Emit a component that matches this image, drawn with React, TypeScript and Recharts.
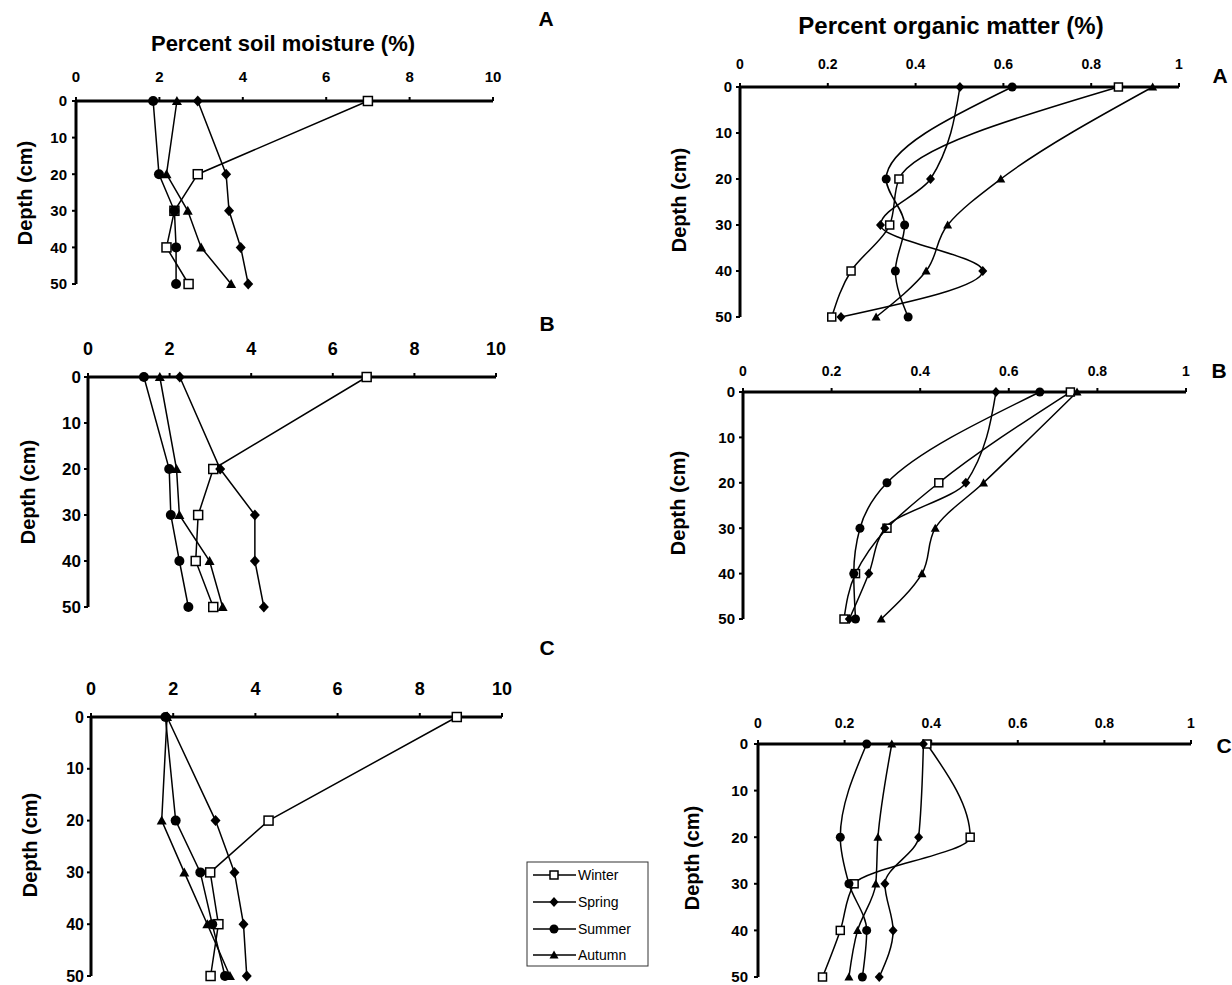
import React from 'react';
import { LineChart, Line, XAxis, YAxis } from 'recharts';

const FONT = '"Liberation Sans", Arial, Helvetica, sans-serif';

const depths = [0, 20, 30, 40, 50];
const seasons = ['Winter', 'Spring', 'Summer', 'Autumn'];
const moistureTicks = [0, 2, 4, 6, 8, 10];
const organicTicks = [0, 0.2, 0.4, 0.6, 0.8, 1];
const depthTicks = [0, 10, 20, 30, 40, 50];

// Percent soil moisture (%) — site A
const moistureAWinter = [7.0, 2.92, 2.36, 2.17, 2.7];
const moistureASpring = [2.92, 3.6, 3.67, 3.95, 4.13];
const moistureASummer = [1.85, 1.99, 2.36, 2.4, 2.4];
const moistureAAutumn = [2.42, 2.17, 2.68, 3.0, 3.72];
// site B
const moistureBWinter = [6.83, 3.07, 2.7, 2.64, 3.07];
const moistureBSpring = [2.25, 3.24, 4.09, 4.09, 4.31];
const moistureBSummer = [1.37, 1.99, 2.03, 2.24, 2.46];
const moistureBAutumn = [1.76, 2.17, 2.24, 2.98, 3.3];
// site C
const moistureCWinter = [8.9, 4.32, 2.9, 3.1, 2.91];
const moistureCSpring = [1.85, 3.03, 3.49, 3.71, 3.79];
const moistureCSummer = [1.81, 2.06, 2.66, 2.95, 3.26];
const moistureCAutumn = [1.85, 1.72, 2.27, 2.83, 3.38];

// Percent organic matter (%) — site A
const organicAWinter = [0.862, 0.362, 0.341, 0.253, 0.209];
const organicASpring = [0.501, 0.434, 0.32, 0.553, 0.23];
const organicASummer = [0.62, 0.333, 0.375, 0.354, 0.383];
const organicAAutumn = [0.94, 0.594, 0.473, 0.424, 0.31];
// site B
const organicBWinter = [0.739, 0.442, 0.325, 0.254, 0.228];
const organicBSpring = [0.571, 0.503, 0.32, 0.284, 0.24];
const organicBSummer = [0.67, 0.325, 0.264, 0.25, 0.254];
const organicBAutumn = [0.754, 0.543, 0.434, 0.404, 0.312];
// site C
const organicCWinter = [0.39, 0.49, 0.222, 0.19, 0.149];
const organicCSpring = [0.382, 0.371, 0.293, 0.312, 0.28];
const organicCSummer = [0.251, 0.19, 0.21, 0.251, 0.241];
const organicCAutumn = [0.309, 0.277, 0.272, 0.23, 0.21];

function buildRows(w: number[], s: number[], su: number[], a: number[]) {
  return depths.map((d, i) => ({ depth: d, Winter: w[i], Spring: s[i], Summer: su[i], Autumn: a[i] }));
}

type PanelDef = {
  key: string;
  x: number; y: number; w: number; h: number;
  rows: any[];
  domain: [number, number];
  xTicks: number[];
  xFont: number; yFont: number;
  xTickMargin: number; yTickMargin: number;
  curve: 'linear' | 'monotone';
  marker: number;
};

const panels: PanelDef[] = [
  { key: 'mA', x: 76, y: 101, w: 417, h: 183, rows: buildRows(moistureAWinter, moistureASpring, moistureASummer, moistureAAutumn), domain: [0, 10], xTicks: moistureTicks, xFont: 15, yFont: 15, xTickMargin: 15, yTickMargin: 5, curve: 'linear', marker: 10 },
  { key: 'mB', x: 88, y: 377, w: 408, h: 230, rows: buildRows(moistureBWinter, moistureBSpring, moistureBSummer, moistureBAutumn), domain: [0, 10], xTicks: moistureTicks, xFont: 18, yFont: 17, xTickMargin: 18, yTickMargin: 3, curve: 'linear', marker: 10 },
  { key: 'mC', x: 91, y: 717, w: 411, h: 259, rows: buildRows(moistureCWinter, moistureCSpring, moistureCSummer, moistureCAutumn), domain: [0, 10], xTicks: moistureTicks, xFont: 18, yFont: 16, xTickMargin: 18, yTickMargin: 3, curve: 'linear', marker: 10 },
  { key: 'oA', x: 740, y: 87, w: 439, h: 230, rows: buildRows(organicAWinter, organicASpring, organicASummer, organicAAutumn), domain: [0, 1], xTicks: organicTicks, xFont: 14, yFont: 15, xTickMargin: 14, yTickMargin: 4, curve: 'monotone', marker: 9 },
  { key: 'oB', x: 743, y: 392, w: 443, h: 227, rows: buildRows(organicBWinter, organicBSpring, organicBSummer, organicBAutumn), domain: [0, 1], xTicks: organicTicks, xFont: 14, yFont: 15, xTickMargin: 12, yTickMargin: 4, curve: 'monotone', marker: 9 },
  { key: 'oC', x: 758, y: 744, w: 433, h: 233, rows: buildRows(organicCWinter, organicCSpring, organicCSummer, organicCAutumn), domain: [0, 1], xTicks: organicTicks, xFont: 14, yFont: 15, xTickMargin: 12, yTickMargin: 6, curve: 'monotone', marker: 9 },
];

function Marker({ cx, cy, season, size }: { cx?: number; cy?: number; season: string; size: number }) {
  if (cx == null || cy == null || isNaN(cx) || isNaN(cy)) return null;
  const h = size / 2;
  if (season === 'Winter') {
    return <rect x={cx - h + 0.5} y={cy - h + 0.5} width={size - 1} height={size - 1} fill="#fff" stroke="#000" strokeWidth={1.5} />;
  }
  if (season === 'Spring') {
    return <polygon points={`${cx},${cy - h - 0.5} ${cx + h},${cy} ${cx},${cy + h + 0.5} ${cx - h},${cy}`} fill="#000" />;
  }
  if (season === 'Summer') {
    return <circle cx={cx} cy={cy} r={h} fill="#000" />;
  }
  return <polygon points={`${cx},${cy - h} ${cx + h},${cy + h * 0.8} ${cx - h},${cy + h * 0.8}`} fill="#000" />;
}

function Panel({ p }: { p: PanelDef }) {
  const ML = 70, MT = 50, MR = 24, MB = 20;
  const fmt = (v: number) => String(v);
  return (
    <div style={{ position: 'absolute', left: p.x - ML, top: p.y - MT }}>
      <LineChart
        width={p.w + ML + MR}
        height={p.h + MT + MB}
        data={p.rows}
        layout="vertical"
        margin={{ top: 0, left: 0, right: MR, bottom: MB }}
      >
        <XAxis
          type="number"
          orientation="top"
          domain={p.domain}
          ticks={p.xTicks}
          interval={0}
          height={MT}
          axisLine={{ stroke: '#000', strokeWidth: 3 }}
          tickLine={{ stroke: '#000', strokeWidth: 2 }}
          tickSize={4}
          tickMargin={p.xTickMargin}
          tickFormatter={fmt}
          tick={{ fill: '#000', fontSize: p.xFont, fontWeight: 700, fontFamily: FONT }}
        />
        <YAxis
          type="number"
          dataKey="depth"
          domain={[0, 50]}
          ticks={depthTicks}
          interval={0}
          width={ML}
          axisLine={{ stroke: '#000', strokeWidth: 3 }}
          tickLine={{ stroke: '#000', strokeWidth: 2 }}
          tickSize={4}
          tickMargin={p.yTickMargin}
          tick={{ fill: '#000', fontSize: p.yFont, fontWeight: 700, fontFamily: FONT }}
        />
        {seasons.map((s) => (
          <Line
            key={s}
            dataKey={s}
            type={p.curve}
            stroke="#000"
            strokeWidth={1.5}
            isAnimationActive={false}
            activeDot={false}
            dot={(props: any) => (
              <Marker key={`${p.key}-${s}-${props.index}`} cx={props.cx} cy={props.cy} season={s} size={p.marker} />
            )}
          />
        ))}
      </LineChart>
    </div>
  );
}

const depthLabels = [
  { x: 25, y: 193 },
  { x: 28, y: 492 },
  { x: 30, y: 845 },
  { x: 679, y: 200 },
  { x: 678, y: 503 },
  { x: 692, y: 858 },
];

const panelLetters = [
  { t: 'A', x: 546, y: 18 },
  { t: 'B', x: 547, y: 323 },
  { t: 'C', x: 547, y: 647 },
  { t: 'A', x: 1220, y: 75 },
  { t: 'B', x: 1219, y: 370 },
  { t: 'C', x: 1224, y: 745 },
];

function Legend() {
  const x0 = 527, y0 = 862, w = 121, h = 104;
  const rowY = [875, 902, 929, 955];
  return (
    <g>
      <rect x={x0} y={y0} width={w} height={h} fill="#fff" stroke="#333" strokeWidth={1} />
      {seasons.map((s, i) => (
        <g key={s}>
          <line x1={533} x2={576} y1={rowY[i]} y2={rowY[i]} stroke="#000" strokeWidth={1.5} />
          <Marker cx={554} cy={rowY[i]} season={s} size={9} />
          <text x={578} y={rowY[i]} dominantBaseline="central" fontSize={14} fontFamily={FONT} fill="#000">{s}</text>
        </g>
      ))}
    </g>
  );
}

export default function App() {
  return (
    <div style={{ position: 'absolute', left: 0, top: 0, width: 1232, height: 985, background: '#fff', overflow: 'hidden' }}>
      <svg width={1232} height={985} style={{ position: 'absolute', left: 0, top: 0 }}>
        <text x={283} y={43} textAnchor="middle" dominantBaseline="central" fontSize={22} fontWeight={700} fontFamily={FONT} fill="#000">Percent soil moisture (%)</text>
        <text x={951} y={25} textAnchor="middle" dominantBaseline="central" fontSize={24} fontWeight={700} fontFamily={FONT} fill="#000">Percent organic matter (%)</text>
        {depthLabels.map((d, i) => (
          <text key={i} x={d.x} y={d.y} transform={`rotate(-90 ${d.x} ${d.y})`} textAnchor="middle" dominantBaseline="central" fontSize={20} fontWeight={700} fontFamily={FONT} fill="#000">Depth (cm)</text>
        ))}
        {panelLetters.map((l, i) => (
          <text key={i} x={l.x} y={l.y} textAnchor="middle" dominantBaseline="central" fontSize={21} fontWeight={700} fontFamily={FONT} fill="#000">{l.t}</text>
        ))}
        <Legend />
      </svg>
      {panels.map((p) => (
        <Panel key={p.key} p={p} />
      ))}
    </div>
  );
}
